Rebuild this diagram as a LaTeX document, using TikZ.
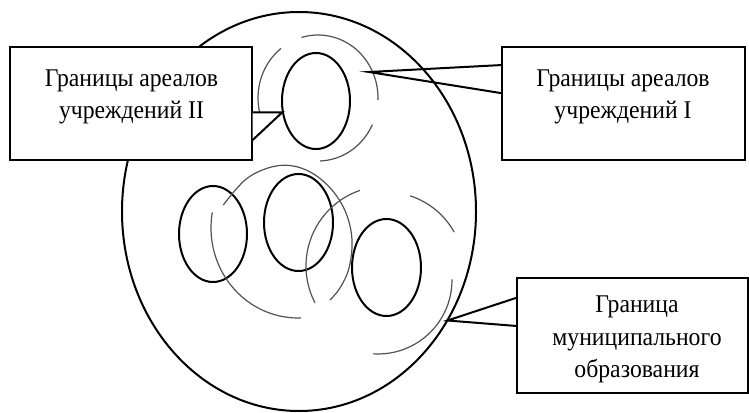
\documentclass[tikz,border=0pt]{standalone}
\usepackage{fontspec}
\setmainfont{Liberation Serif}[FakeStretch=0.93]
\begin{document}
\begin{tikzpicture}[x=1pt,y=-1pt,
  thickline/.style={line width=2pt,black},
  ringarc/.style={line width=1.2pt,black!68},
  calloutbox/.style={draw,line width=2pt,fill=white,inner sep=0pt},
  pointer/.style={line width=2pt,line join=miter},
  labeltext/.style={align=center,inner sep=0pt,font=\fontsize{25.5}{31.5}\selectfont},
  labeltextwide/.style={align=center,inner sep=0pt,font=\fontsize{25.5}{32.5}\selectfont}]
\useasboundingbox (0,0) rectangle (749,412);
% municipality boundary
\draw[thickline] (299,211.5) ellipse [x radius=177, y radius=199.5];
% institution II areas
\draw[thickline] (316,101) ellipse [x radius=34, y radius=48];
\draw[thickline] (213,234) ellipse [x radius=34, y radius=48];
\draw[thickline] (298.5,222.5) ellipse [x radius=34.5, y radius=48.5];
\draw[thickline] (386.5,267.5) ellipse [x radius=34.5, y radius=48.5];
% institution I areas (broken arcs); angles in the flipped system are negated
\draw[ringarc] (318,98) ++(-128:60 and 63) arc[start angle=-128, end angle=-194, x radius=60, y radius=63];
\draw[ringarc] (318,98) ++(-106:60 and 63) arc[start angle=-106, end angle=2, x radius=60, y radius=63];
\draw[ringarc] (318,98) ++(25:60 and 63) arc[start angle=25, end angle=88, x radius=60, y radius=63];
\draw[ringarc] (298,228) ++(-170:87 and 90) arc[start angle=-170, end angle=-272, x radius=87, y radius=90];
\draw[ringarc] plot[smooth, tension=0.6] coordinates {(223.3,205) (245,180) (268,168) (290,165.5) (312,173) (332,190) (346,213) (352,240) (349,268) (340,288) (330,300)};
\draw[ringarc] (386,266) ++(-109:80) arc[start angle=-109, end angle=-207.4, radius=80];
\draw[ringarc] (386,270) ++(-72:78) arc[start angle=-72, end angle=-29, radius=78];
\draw[ringarc] (378,280) ++(-0.5:74) arc[start angle=-0.5, end angle=93.7, radius=74];
% callout boxes
\node[calloutbox, minimum width=242.3pt, minimum height=113.3pt] (boxII) at (131.3,103.3) {};
\node[calloutbox, minimum width=242.7pt, minimum height=113.3pt] (boxI) at (623.7,103.3) {};
\node[calloutbox, minimum width=231.3pt, minimum height=114.4pt] (boxM) at (632.3,335.5) {};
% pointer coordinates
\coordinate (tipII) at (282.3,112.3);
\coordinate (baseIIa) at (252.7,112.3);
\coordinate (baseIIb) at (252.7,140);
\coordinate (tipI) at (369,72);
\coordinate (baseIa) at (502.3,65);
\coordinate (baseIb) at (502.3,93.3);
\coordinate (tipM) at (447.5,320.5);
\coordinate (baseMa) at (516.7,297.7);
\coordinate (baseMb) at (516.7,326);
\fill[white] (baseIIa) -- (tipII) -- (baseIIb) -- cycle;
\draw[pointer] (baseIIa) -- (tipII) -- (baseIIb);
\draw[pointer] (baseIa) -- (tipI) -- (baseIb);
\draw[pointer] (baseMa) -- (tipM) -- (baseMb);
% texts
\node[labeltext] (tII) at (131.5,97.1) {Границы ареалов\\учреждений II};
\node[labeltext] (tI) at (623,97) {Границы ареалов\\учреждений I};
\node[labeltextwide] (tM) at (637,339.8) {Граница\\муниципального\\образования};
\end{tikzpicture}
\end{document}
